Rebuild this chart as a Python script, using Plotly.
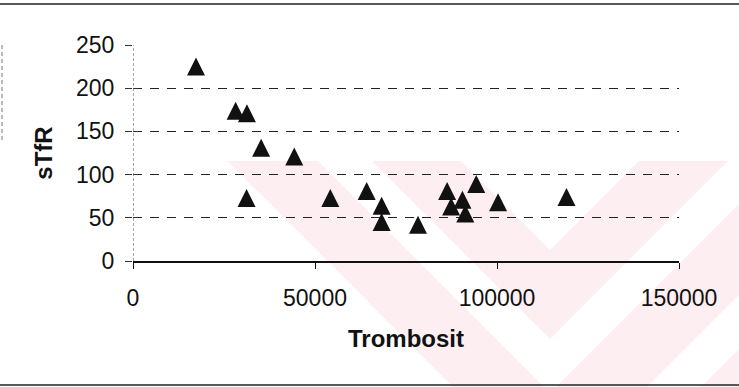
import plotly.graph_objects as go

# Platelet count vs. soluble transferrin receptor
trombosit = [17300, 28200, 31300, 35200, 44300, 31200, 54200, 64200, 68300,
             68300, 78300, 86300, 87400, 90500, 91300, 94300, 100300, 119100]
stfr = [225, 174, 171, 131, 121, 73, 73, 81, 64,
        45, 42, 81, 63, 71, 55, 89, 68, 74]

x_ticks = [0, 50000, 100000, 150000]
y_ticks = [0, 50, 100, 150, 200, 250]

W, H = 739, 387
M = dict(l=133, r=60, t=45, b=126)
PW = W - M["l"] - M["r"]
PH = H - M["t"] - M["b"]
Y_RANGE = [0, 250]

MARKER_SIZE = 18
# "arrow-up" puts its tip on the data point; a hidden twin axis shifted by
# half the marker height centres the triangle on the value instead.
shift = (MARKER_SIZE / 2) * (Y_RANGE[1] - Y_RANGE[0]) / PH


def paper(px, py):
    """Figure pixel position -> paper coordinates."""
    return (px - M["l"]) / PW, (H - M["b"] - py) / PH


def path(points):
    pts = [paper(x, y) for x, y in points]
    return "M" + " L".join(f"{x:.4f},{y:.4f}" for x, y in pts) + " Z"


def chevron(v_in, v_out, cx=550, top=161):
    # V-shaped band between two nested chevrons with apex on x = cx
    return [(cx - (v_out - top), top), (cx - (v_in - top), top), (cx, v_in),
            (cx + (v_in - top), top), (cx + (v_out - top), top), (cx, v_out)]


PINK = "rgb(253,238,241)"
shapes = []
# faint background emblem
shapes.append(dict(type="path", xref="paper", yref="paper", layer="below",
                   path=path([(227, 161), (760, 161), (760, 400), (466, 400)]),
                   fillcolor=PINK, line=dict(width=0)))
for pts in ([(461, 161), (639, 161), (550, 250)],
            chevron(339, 393), chevron(484, 538)):
    shapes.append(dict(type="path", xref="paper", yref="paper", layer="below",
                       path=path(pts), fillcolor="white", line=dict(width=0)))

# frame of the figure
for y in (4, 385):
    x0, yy = paper(0, y)
    x1, _ = paper(W, y)
    shapes.append(dict(type="line", xref="paper", yref="paper",
                       x0=x0, x1=x1, y0=yy, y1=yy,
                       line=dict(color="#222", width=1.5)))
lx, ly0 = paper(2, 45)
_, ly1 = paper(2, 140)
shapes.append(dict(type="line", xref="paper", yref="paper",
                   x0=lx, x1=lx, y0=ly0, y1=ly1,
                   line=dict(color="#777", width=1, dash="4px,3px")))

# value axis line (dotted)
shapes.append(dict(type="line", xref="x", yref="y", x0=0, x1=0,
                   y0=min(y_ticks), y1=max(y_ticks),
                   line=dict(color="#555", width=1, dash="3px,2px")))

fig = go.Figure()
fig.add_trace(go.Scatter(
    x=trombosit, y=stfr, mode="markers", yaxis="y3",
    marker=dict(symbol="arrow-up", size=MARKER_SIZE, color="#111",
                line=dict(width=0)),
    showlegend=False, cliponaxis=False))
# helper trace so the mirrored tick axis is drawn
fig.add_trace(go.Scatter(x=[None], y=[None], yaxis="y2", showlegend=False,
                         hoverinfo="skip"))

tick_font = dict(family="Liberation Sans, Arial", size=23, color="#111")
title_font = dict(family="Liberation Sans, Arial", size=24, color="#111")

fig.update_layout(
    width=W, height=H, margin=M,
    paper_bgcolor="white", plot_bgcolor="rgba(0,0,0,0)",
    shapes=shapes,
    xaxis=dict(range=[0, 150000], tickvals=x_ticks,
               ticktext=[str(v) for v in x_ticks],
               showgrid=False, zeroline=False,
               showline=True, linecolor="#111", linewidth=1.5,
               ticks="outside", ticklen=6, tickcolor="#111", tickwidth=1,
               tickfont=tick_font, ticklabelstandoff=10,
               title=dict(text="<b>Trombosit</b>", font=title_font, standoff=20)),
    yaxis=dict(range=Y_RANGE, tickvals=y_ticks,
               showgrid=True, gridcolor="#222", gridwidth=1,
               griddash="9px,8px", zeroline=False, showline=False,
               ticks="outside", ticklen=7, tickcolor="#333", tickwidth=1,
               tickfont=tick_font, ticklabelstandoff=6,
               title=dict(text="<b>sTfR</b>", font=title_font, standoff=16)),
    yaxis2=dict(range=Y_RANGE, tickvals=y_ticks, overlaying="y", side="left",
                anchor="x", showgrid=False, zeroline=False, showline=False,
                ticks="inside", ticklen=5, tickcolor="#333", tickwidth=1,
                showticklabels=False),
    yaxis3=dict(range=[Y_RANGE[0] - shift, Y_RANGE[1] - shift],
                overlaying="y", anchor="x", visible=False),
)

fig.write_html("out.html")
